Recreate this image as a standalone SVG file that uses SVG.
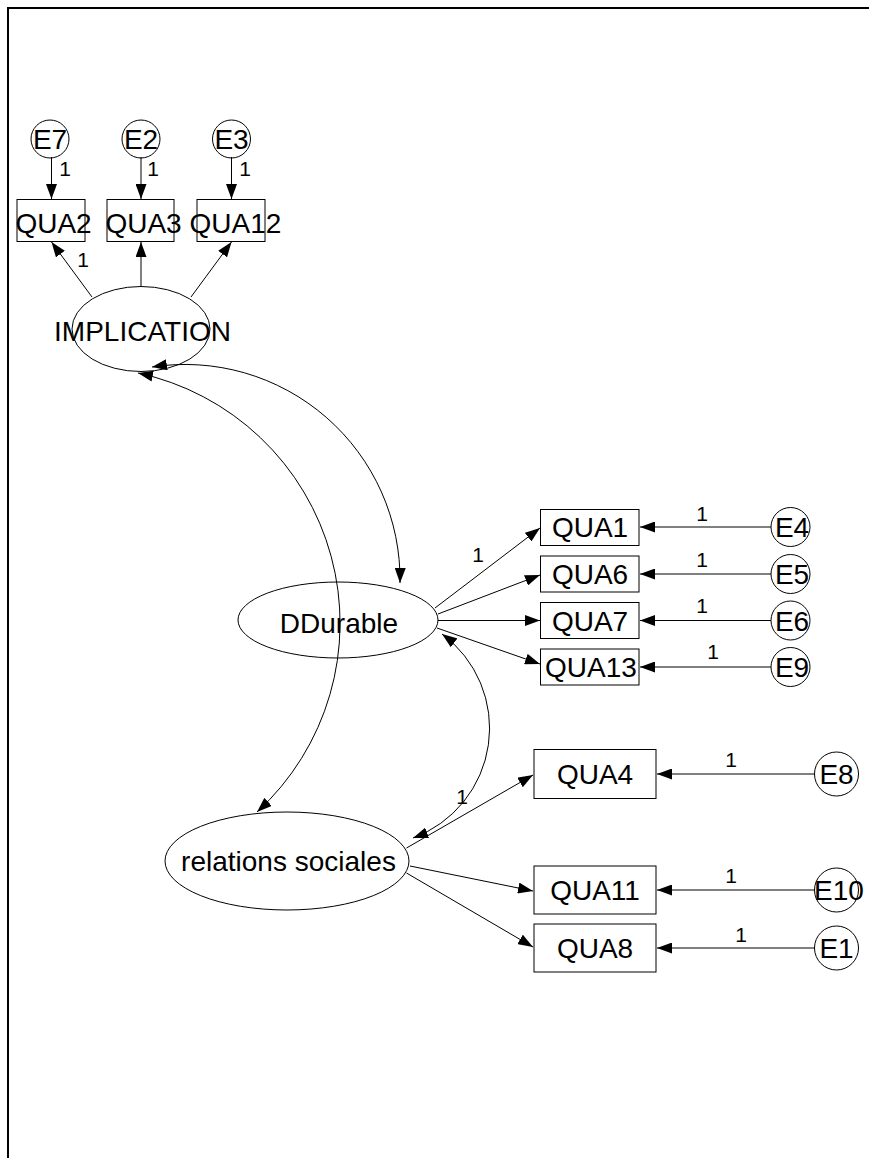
<svg xmlns="http://www.w3.org/2000/svg" width="869" height="1158" viewBox="0 0 869 1158">
<style>
.n{fill:none;stroke:#000;stroke-width:1}
.t{font-family:"Liberation Sans",Arial,sans-serif;font-size:28px;fill:#000;text-anchor:middle}
.l{font-family:"Liberation Sans",Arial,sans-serif;font-size:21px;fill:#000;text-anchor:middle}
.c{fill:none;stroke:#000;stroke-width:1}
.a{marker-end:url(#ah)}
.d{marker-start:url(#ah);marker-end:url(#ah)}
</style>
<defs>
<marker id="ah" markerUnits="userSpaceOnUse" markerWidth="15" markerHeight="11" refX="15" refY="5.5" orient="auto-start-reverse">
<path d="M0,0 L15,5.5 L0,11 z" fill="#000"/>
</marker>
</defs>
<rect width="869" height="1158" fill="#fff"/>
<path d="M8,1158 V8 H869" fill="none" stroke="#000" stroke-width="2"/>

<g id="connectors">
<line class="c a" x1="51.5" y1="157" x2="51.5" y2="199"/>
<line class="c a" x1="141" y1="157" x2="141" y2="199"/>
<line class="c a" x1="231.5" y1="157" x2="231.5" y2="199"/>
<line class="c a" x1="92" y1="297" x2="51.5" y2="242"/>
<line class="c a" x1="141" y1="286.5" x2="141" y2="242"/>
<line class="c a" x1="191" y1="297" x2="231.5" y2="242"/>

<line class="c a" x1="435" y1="608" x2="540" y2="528"/>
<line class="c a" x1="438" y1="614" x2="540" y2="575"/>
<line class="c a" x1="438" y1="620.5" x2="540" y2="620.5"/>
<line class="c a" x1="437" y1="628" x2="540" y2="664"/>

<line class="c a" x1="771" y1="527" x2="640" y2="527"/>
<line class="c a" x1="771" y1="574" x2="640" y2="574"/>
<line class="c a" x1="771" y1="620.5" x2="640" y2="620.5"/>
<line class="c a" x1="771" y1="667" x2="640" y2="667"/>

<line class="c a" x1="406.5" y1="848" x2="533" y2="775"/>
<line class="c a" x1="410" y1="866" x2="533" y2="891"/>
<line class="c a" x1="406.5" y1="873" x2="533" y2="947"/>

<line class="c a" x1="815" y1="774" x2="657" y2="774"/>
<line class="c a" x1="815" y1="890" x2="657" y2="890"/>
<line class="c a" x1="815" y1="948" x2="657" y2="948"/>

<path class="c d" d="M152,367 A215,215 0 0 1 400,583"/>
<path class="c d" d="M138,373 A256,256 0 0 1 257,812"/>
<path class="c d" d="M442,634 A117,117 0 0 1 413,838"/>

<text class="l" x="65" y="176">1</text>
<text class="l" x="153" y="176">1</text>
<text class="l" x="245" y="176">1</text>
<text class="l" x="83" y="267">1</text>
<text class="l" x="478" y="562">1</text>
<text class="l" x="702" y="521">1</text>
<text class="l" x="702" y="567">1</text>
<text class="l" x="702" y="613">1</text>
<text class="l" x="713" y="659">1</text>
<text class="l" x="462" y="804">1</text>
<text class="l" x="731" y="767">1</text>
<text class="l" x="731" y="883">1</text>
<text class="l" x="741" y="942">1</text>
</g>

<g id="E7"><circle class="n" cx="50" cy="139" r="19"/><text class="t" x="50" y="149">E7</text></g>
<g id="E2"><circle class="n" cx="141" cy="139" r="19"/><text class="t" x="141" y="149">E2</text></g>
<g id="E3"><circle class="n" cx="231.5" cy="139" r="19"/><text class="t" x="231.5" y="149">E3</text></g>

<g id="QUA2"><rect class="n" x="17" y="199.5" width="68" height="42"/><text class="t" x="53.5" y="233">QUA2</text></g>
<g id="QUA3"><rect class="n" x="107" y="199.5" width="67" height="42"/><text class="t" x="143.5" y="233">QUA3</text></g>
<g id="QUA12"><rect class="n" x="197" y="199.5" width="68" height="42"/><text class="t" x="235.5" y="233">QUA12</text></g>

<g id="IMPLICATION"><ellipse class="n" cx="141" cy="329" rx="69" ry="42.5"/><text class="t" x="142.5" y="341">IMPLICATION</text></g>

<g id="DDurable"><ellipse class="n" cx="338" cy="620" rx="100" ry="38"/><text class="t" x="339" y="633">DDurable</text></g>

<g id="QUA1"><rect class="n" x="540.5" y="509.5" width="98.5" height="36"/><text class="t" x="590" y="537">QUA1</text></g>
<g id="QUA6"><rect class="n" x="540.5" y="556" width="98.5" height="36"/><text class="t" x="590" y="584">QUA6</text></g>
<g id="QUA7"><rect class="n" x="540.5" y="602.5" width="98.5" height="36"/><text class="t" x="590" y="630.5">QUA7</text></g>
<g id="QUA13"><rect class="n" x="540.5" y="649" width="98.5" height="36"/><text class="t" x="591" y="677">QUA13</text></g>

<g id="E4"><circle class="n" cx="790.5" cy="527" r="19.5"/><text class="t" x="792" y="537">E4</text></g>
<g id="E5"><circle class="n" cx="790.5" cy="574" r="19.5"/><text class="t" x="792" y="584">E5</text></g>
<g id="E6"><circle class="n" cx="790.5" cy="620.5" r="19.5"/><text class="t" x="792" y="630.5">E6</text></g>
<g id="E9"><circle class="n" cx="790.5" cy="667" r="19.5"/><text class="t" x="792" y="677">E9</text></g>

<g id="relations_sociales"><ellipse class="n" cx="287" cy="861" rx="122" ry="49"/><text class="t" x="288.5" y="871">relations sociales</text></g>

<g id="QUA4"><rect class="n" x="534" y="749.5" width="122" height="49"/><text class="t" x="595" y="784">QUA4</text></g>
<g id="QUA11"><rect class="n" x="534" y="866" width="122" height="48"/><text class="t" x="595" y="900">QUA11</text></g>
<g id="QUA8"><rect class="n" x="534" y="924" width="122" height="48"/><text class="t" x="595" y="958">QUA8</text></g>

<g id="E8"><circle class="n" cx="836.5" cy="774" r="22"/><text class="t" x="836.5" y="784">E8</text></g>
<g id="E10"><circle class="n" cx="836.5" cy="890" r="22"/><text class="t" x="839" y="900">E10</text></g>
<g id="E1"><circle class="n" cx="836.5" cy="948" r="22"/><text class="t" x="836.5" y="958">E1</text></g>
</svg>
